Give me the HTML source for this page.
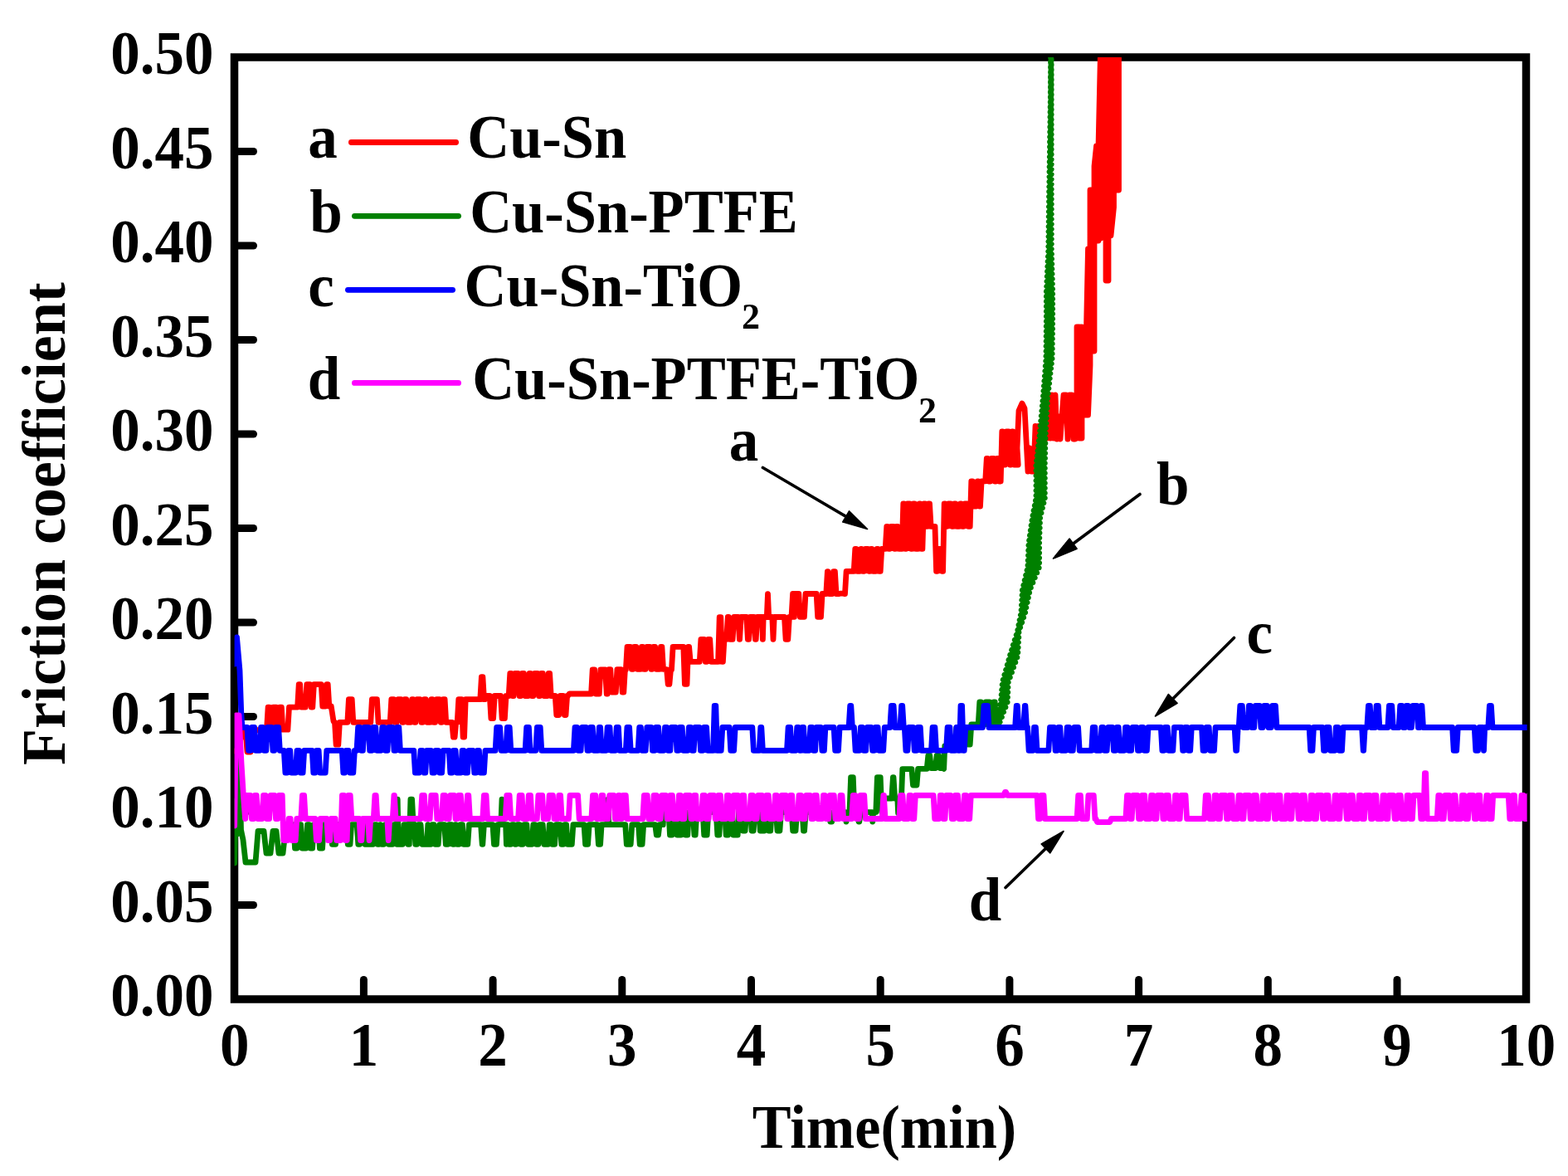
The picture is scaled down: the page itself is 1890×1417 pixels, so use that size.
<!DOCTYPE html>
<html><head><meta charset="utf-8"><title>Friction coefficient vs time</title>
<style>
html,body{margin:0;padding:0;background:#fff;}
body{width:1890px;height:1417px;overflow:hidden;}
svg{display:block;}
text{font-family:'Liberation Serif','Times New Roman',serif;font-weight:bold;fill:#000;}
</style></head><body>
<svg width="1890" height="1417" viewBox="0 0 1890 1417">
<rect width="1890" height="1417" fill="#fff"/>
<defs><clipPath id="pc"><rect x="282.6" y="69" width="1558" height="1135"/></clipPath></defs>
<g id="axes">
<rect x="282.5" y="69" width="1557" height="1135" fill="none" stroke="#000" stroke-width="9.5" stroke-linejoin="miter"/>
<line x1="283" y1="1090.50" x2="305.5" y2="1090.50" stroke="#000" stroke-width="9" stroke-linecap="round"/>
<line x1="283" y1="977.00" x2="305.5" y2="977.00" stroke="#000" stroke-width="9" stroke-linecap="round"/>
<line x1="283" y1="863.50" x2="305.5" y2="863.50" stroke="#000" stroke-width="9" stroke-linecap="round"/>
<line x1="283" y1="750.00" x2="305.5" y2="750.00" stroke="#000" stroke-width="9" stroke-linecap="round"/>
<line x1="283" y1="636.50" x2="305.5" y2="636.50" stroke="#000" stroke-width="9" stroke-linecap="round"/>
<line x1="283" y1="523.00" x2="305.5" y2="523.00" stroke="#000" stroke-width="9" stroke-linecap="round"/>
<line x1="283" y1="409.50" x2="305.5" y2="409.50" stroke="#000" stroke-width="9" stroke-linecap="round"/>
<line x1="283" y1="296.00" x2="305.5" y2="296.00" stroke="#000" stroke-width="9" stroke-linecap="round"/>
<line x1="283" y1="182.50" x2="305.5" y2="182.50" stroke="#000" stroke-width="9" stroke-linecap="round"/>
<line x1="438.40" y1="1203" x2="438.40" y2="1180.5" stroke="#000" stroke-width="9" stroke-linecap="round"/>
<line x1="594.10" y1="1203" x2="594.10" y2="1180.5" stroke="#000" stroke-width="9" stroke-linecap="round"/>
<line x1="749.80" y1="1203" x2="749.80" y2="1180.5" stroke="#000" stroke-width="9" stroke-linecap="round"/>
<line x1="905.50" y1="1203" x2="905.50" y2="1180.5" stroke="#000" stroke-width="9" stroke-linecap="round"/>
<line x1="1061.20" y1="1203" x2="1061.20" y2="1180.5" stroke="#000" stroke-width="9" stroke-linecap="round"/>
<line x1="1216.90" y1="1203" x2="1216.90" y2="1180.5" stroke="#000" stroke-width="9" stroke-linecap="round"/>
<line x1="1372.60" y1="1203" x2="1372.60" y2="1180.5" stroke="#000" stroke-width="9" stroke-linecap="round"/>
<line x1="1528.30" y1="1203" x2="1528.30" y2="1180.5" stroke="#000" stroke-width="9" stroke-linecap="round"/>
<line x1="1684.00" y1="1203" x2="1684.00" y2="1180.5" stroke="#000" stroke-width="9" stroke-linecap="round"/>
</g>
<g id="curves" clip-path="url(#pc)" fill="none" stroke-width="6.8" stroke-linejoin="round" stroke-linecap="round">
<path d="M282.7,905.0 L287.0,905.0 L292.0,880.0 L296.0,880.0 L298.0,906.0 L302.0,906.0 L305.0,880.0 L320.0,879.2 L320.8,879.2 L321.5,879.2 L323.1,852.1 L324.5,852.1 L326.1,879.2 L327.8,879.2 L329.4,852.1 L333.0,852.1 L334.6,879.2 L335.7,879.2 L337.3,852.1 L339.3,852.1 L340.9,879.2 L346.9,879.2 L348.5,852.1 L358.6,852.1 L360.2,824.6 L361.6,824.6 L363.2,852.1 L365.2,852.1 L366.8,852.1 L368.2,852.1 L369.8,824.6 L373.6,824.6 L375.2,852.1 L376.8,852.1 L378.4,824.6 L381.8,824.6 L383.4,824.6 L387.2,824.6 L388.8,851.0 L392.2,851.0 L393.8,824.6 L395.2,824.6 L396.8,851.0 L399.2,851.0 L402.0,869.0 L402.8,870.4 L403.5,870.4 L405.1,897.2 L407.8,897.2 L409.4,870.4 L418.8,870.4 L420.4,842.6 L424.2,842.6 L425.8,870.4 L446.8,870.4 L448.4,842.6 L454.4,842.6 L456.0,870.4 L470.2,870.4 L471.8,842.6 L474.6,842.6 L476.2,870.4 L478.2,870.4 L479.8,842.7 L483.4,842.7 L485.0,870.3 L486.1,870.3 L487.7,842.7 L489.7,842.7 L491.3,870.3 L495.0,870.3 L496.6,842.7 L498.0,842.7 L499.6,870.3 L500.9,870.3 L502.5,842.7 L506.3,842.7 L507.9,870.3 L509.5,870.3 L511.1,842.7 L513.2,842.7 L514.8,870.3 L518.3,870.3 L519.9,842.7 L521.3,842.7 L522.9,870.3 L524.6,870.3 L526.2,842.7 L529.7,842.7 L531.3,870.3 L532.5,870.3 L534.1,842.7 L536.1,842.7 L537.7,870.3 L542.2,870.3 L543.8,870.4 L544.8,870.4 L546.4,888.2 L548.1,888.2 L549.7,870.4 L551.2,870.4 L552.8,842.7 L553.2,842.7 L554.8,842.7 L556.5,842.7 L558.1,888.2 L559.6,888.2 L561.2,842.7 L562.2,842.7 L563.8,842.7 L576.2,842.7 L577.8,842.7 L578.8,842.7 L580.4,815.7 L581.9,815.7 L583.5,842.7 L584.5,842.7 L586.1,838.5 L590.3,838.5 L591.9,865.5 L594.6,865.5 L596.2,838.5 L603.5,838.5 L605.1,865.5 L608.4,865.5 L610.0,838.5 L613.2,838.5 L614.8,811.4 L616.2,811.4 L617.8,838.5 L619.1,838.5 L620.7,811.4 L624.5,811.4 L626.1,838.5 L627.7,838.5 L629.3,811.4 L631.4,811.4 L633.0,838.5 L636.5,838.5 L638.1,811.4 L639.5,811.4 L641.1,838.5 L642.8,838.5 L644.4,811.4 L647.9,811.4 L649.5,838.5 L650.7,838.5 L652.3,811.4 L654.3,811.4 L655.9,838.5 L659.6,838.5 L661.2,811.4 L662.6,811.4 L664.2,838.5 L666.2,838.5 L667.8,838.5 L669.2,838.5 L670.8,861.5 L673.6,861.5 L675.2,838.5 L678.8,838.5 L680.4,861.5 L682.0,861.5 L683.6,838.5 L684.6,838.5 L686.2,836.0 L712.6,836.0 L714.2,807.0 L716.6,807.0 L718.2,836.0 L722.3,836.0 L723.9,807.0 L729.6,807.0 L731.2,836.0 L732.2,836.0 L733.8,806.7 L735.8,806.7 L737.4,834.0 L742.3,834.0 L743.9,806.7 L748.6,806.7 L750.2,834.0 L751.8,834.0 L753.4,806.7 L754.4,806.7 L756.0,779.4 L759.8,779.4 L761.4,806.4 L763.0,806.4 L764.6,779.4 L766.8,779.4 L768.4,806.4 L771.8,806.4 L773.4,779.4 L774.8,779.4 L776.4,806.4 L778.1,806.4 L779.7,779.4 L783.3,779.4 L784.9,806.4 L786.0,806.4 L787.6,779.4 L789.6,779.4 L791.2,806.4 L794.9,806.4 L796.5,779.4 L797.9,779.4 L799.5,806.4 L801.0,806.4 L802.6,806.7 L803.6,806.7 L805.2,824.4 L806.9,824.4 L808.5,806.7 L809.5,806.7 L811.1,779.4 L821.2,779.4 L822.8,779.4 L823.8,779.4 L825.4,824.4 L828.0,824.4 L829.6,779.4 L830.6,779.4 L832.2,797.4 L843.3,797.4 L844.9,770.4 L848.7,770.4 L850.3,797.3 L851.9,797.3 L853.5,770.4 L855.7,770.4 L857.3,797.3 L863.0,797.3 L864.6,797.4 L865.6,797.4 L867.2,743.7 L868.8,743.7 L870.4,797.4 L871.4,797.4 L873.0,770.4 L875.7,770.4 L877.3,743.5 L878.3,743.5 L879.9,770.3 L883.1,770.3 L884.7,743.5 L889.8,743.5 L891.4,770.3 L891.6,770.3 L893.2,743.5 L899.8,743.5 L901.4,770.3 L902.6,770.3 L904.2,743.5 L908.8,743.5 L910.4,770.3 L911.2,770.3 L912.8,743.5 L918.5,743.5 L919.4,770.3 L920.2,743.5 L924.3,743.5 L925.5,715.7 L926.7,743.5 L930.8,743.5 L932.0,770.3 L933.2,743.5 L945.5,743.5 L947.1,770.3 L949.8,770.3 L951.4,743.5 L954.0,743.5 L955.6,715.5 L956.6,715.5 L957.4,743.3 L958.2,715.5 L962.8,715.5 L964.4,743.3 L969.4,743.3 L971.0,715.5 L984.1,715.5 L985.7,743.3 L989.5,743.3 L991.1,715.5 L995.8,715.5 L997.4,688.7 L997.9,688.7 L999.5,715.5 L1003.1,715.5 L1004.7,688.7 L1006.4,688.7 L1008.0,715.5 L1011.6,715.5 L1013.2,715.2 L1015.9,715.2 L1017.5,715.5 L1018.5,715.5 L1020.1,688.4 L1029.2,688.4 L1030.8,661.3 L1032.0,661.3 L1033.5,688.3 L1036.2,688.3 L1037.8,661.3 L1038.5,661.3 L1040.1,688.3 L1041.5,688.3 L1043.1,661.3 L1046.0,661.3 L1047.5,688.3 L1048.5,688.3 L1050.0,661.3 L1050.9,661.3 L1052.5,688.3 L1055.4,688.3 L1057.0,661.3 L1058.1,661.3 L1059.7,688.3 L1061.2,688.3 L1062.8,661.3 L1067.2,661.3 L1068.8,634.3 L1069.7,634.3 L1071.3,661.4 L1072.5,661.4 L1074.0,634.3 L1076.8,634.3 L1078.3,661.4 L1079.0,661.4 L1080.6,634.3 L1082.0,634.3 L1083.6,661.4 L1087.2,661.4 L1088.8,606.8 L1089.7,606.8 L1091.3,661.4 L1092.1,661.4 L1093.7,606.8 L1096.6,606.8 L1098.2,661.4 L1099.3,661.4 L1100.9,606.8 L1102.4,606.8 L1104.0,661.4 L1106.6,661.4 L1108.2,606.8 L1109.1,606.8 L1110.7,661.4 L1111.9,661.4 L1113.5,606.8 L1115.2,606.8 L1116.8,634.3 L1117.5,634.3 L1119.1,606.8 L1120.5,606.8 L1122.1,634.3 L1127.0,634.3 L1128.6,688.4 L1129.6,688.4 L1131.2,661.4 L1134.0,661.4 L1135.6,688.4 L1136.6,688.4 L1138.2,606.8 L1139.1,606.8 L1140.7,634.3 L1141.5,634.3 L1143.1,606.8 L1146.0,606.8 L1147.6,634.3 L1148.7,634.3 L1150.3,606.8 L1151.8,606.8 L1153.4,634.3 L1156.0,634.3 L1157.6,606.8 L1158.5,606.8 L1160.1,634.3 L1161.3,634.3 L1162.9,606.8 L1165.6,606.8 L1167.2,634.3 L1169.2,634.3 L1170.8,579.8 L1172.2,579.8 L1173.8,610.0 L1176.6,610.0 L1178.2,579.8 L1179.1,579.8 L1180.7,610.0 L1181.5,610.0 L1183.1,579.8 L1187.7,579.8 L1189.3,552.4 L1190.4,552.4 L1192.0,580.0 L1193.5,580.0 L1195.1,552.4 L1197.7,552.4 L1199.3,580.0 L1200.2,580.0 L1201.8,552.4 L1203.0,552.4 L1204.5,580.0 L1206.2,580.0 L1207.8,520.0 L1208.5,520.0 L1210.1,560.0 L1211.5,560.0 L1213.1,520.0 L1215.9,520.0 L1217.5,560.0 L1218.4,560.0 L1220.0,520.0 L1220.8,520.0 L1222.4,560.0 L1227.2,560.0 L1226.0,540.0 L1228.0,495.0 L1232.0,486.0 L1235.0,492.0 L1237.0,530.0 L1239.0,568.0 L1241.0,540.0 L1243.0,568.0 L1246.0,568.0 L1248.0,513.5 L1250.0,540.0 L1252.0,513.5 L1254.0,545.0 L1256.0,513.5 L1258.0,540.0 L1260.0,500.0 L1262.0,528.0 L1264.0,476.0 L1266.0,528.0 L1268.0,476.0 L1270.0,528.0 L1272.0,476.0 L1274.0,529.0 L1276.0,502.0 L1278.0,529.0 L1280.0,502.0 L1282.0,476.0 L1285.0,476.0 L1287.0,529.0 L1289.0,476.0 L1292.0,476.0 L1294.0,529.0 L1296.0,529.0 L1298.0,528.0 L1298.0,394.0 L1301.0,394.0 L1301.0,528.0 L1304.0,528.0 L1304.0,394.0 L1306.5,420.0 L1306.5,500.0 L1309.0,500.0 L1309.0,420.0 L1311.5,300.0 L1311.5,500.0 L1314.0,440.0 L1314.0,229.0 L1316.5,229.0 L1316.5,423.0 L1319.0,423.0 L1319.0,200.0 L1321.5,176.0 L1321.5,290.0 L1324.0,290.0 L1324.0,176.0 L1327.0,40.0 L1327.0,287.0 L1330.0,284.0 L1330.0,40.0 L1333.0,40.0 L1333.0,338.0 L1336.0,338.0 L1336.0,40.0 L1339.0,40.0 L1339.0,284.0 L1342.5,250.0 L1342.5,100.0 L1345.5,40.0 L1345.5,229.0 L1348.5,229.0 L1348.5,40.0 L1350.0,10.0" stroke="#FF0000"/>
<path d="M282.7,1040.0 L284.2,965.0 L286.0,1005.0 L288.5,910.0 L290.5,1000.0 L293.0,1012.0 L296.0,1039.0 L308.0,1039.0 L311.0,1001.5 L318.0,1001.5 L321.0,1028.0 L326.0,1028.0 L329.0,1001.5 L333.0,1001.5 L336.0,1028.0 L341.0,1028.0 L344.0,1001.5 L350.0,1001.5 L353.0,994.0 L353.8,993.7 L353.9,993.7 L355.5,1022.0 L357.9,1022.0 L359.6,993.7 L362.6,993.7 L364.2,1022.0 L368.9,1022.0 L370.5,993.7 L372.6,993.7 L374.2,1022.0 L376.6,1022.0 L378.2,993.7 L383.8,993.7 L385.4,1022.0 L388.6,1022.0 L390.2,993.7 L398.8,993.7 L400.4,1017.3 L403.2,1017.3 L400.8,1017.3 L404.5,1017.3 L406.1,993.7 L417.7,993.7 L419.3,1017.3 L422.0,1017.3 L423.6,993.7 L425.2,993.7 L426.8,993.7 L430.2,993.7 L431.8,1017.3 L433.6,1017.3 L435.2,993.7 L438.1,993.7 L439.8,1017.3 L446.2,1017.3 L447.8,1017.3 L449.9,1017.3 L451.6,993.7 L453.6,993.7 L455.2,1017.3 L456.9,1017.3 L458.5,993.7 L458.5,993.7 L460.1,1017.3 L462.6,1017.3 L464.2,993.7 L465.9,993.7 L467.2,993.7 L468.5,1017.3 L473.2,1017.3 L474.8,993.7 L477.0,993.7 L478.5,1017.3 L479.2,963.2 L480.2,1017.3 L481.2,1017.3 L482.8,1017.3 L485.3,1017.3 L486.9,993.7 L490.2,993.7 L491.8,1017.3 L493.3,1017.3 L494.9,963.2 L496.6,963.2 L498.2,993.7 L499.2,993.7 L500.8,1017.3 L502.6,1017.3 L504.2,993.7 L507.1,993.7 L508.8,1017.3 L514.5,1017.3 L515.8,993.7 L517.2,1017.3 L519.4,1017.3 L520.9,993.7 L523.0,993.7 L524.5,1017.3 L528.2,1017.3 L529.8,993.7 L535.7,993.7 L537.3,1017.3 L539.8,1017.3 L541.3,993.7 L544.4,993.7 L546.0,1017.3 L547.2,1017.3 L548.8,993.7 L549.5,993.7 L551.1,1017.3 L553.2,1017.3 L554.8,993.7 L557.4,993.7 L559.0,1017.3 L563.8,1017.3 L565.4,993.7 L567.5,993.7 L569.1,993.7 L577.0,993.7 L578.6,993.7 L579.6,993.7 L581.2,1017.3 L581.8,1017.3 L583.4,993.7 L584.4,993.7 L586.0,993.7 L593.9,993.7 L595.5,1017.3 L598.4,1017.3 L600.0,993.7 L601.2,993.7 L602.8,993.7 L603.8,993.7 L605.0,963.2 L606.2,993.7 L609.6,993.7 L610.4,1017.3 L611.1,993.7 L611.9,993.7 L613.5,1017.3 L615.7,1017.3 L617.2,993.7 L619.3,993.7 L620.9,1017.3 L622.0,1017.3 L623.6,993.7 L626.2,993.7 L627.8,1017.3 L630.2,1017.3 L631.8,993.7 L634.9,993.7 L636.5,1017.3 L641.2,1017.3 L642.8,993.7 L644.9,993.7 L646.5,1017.3 L648.9,1017.3 L650.5,993.7 L654.2,993.7 L655.8,1017.3 L660.7,1017.3 L662.2,993.7 L664.1,993.7 L665.7,1017.3 L668.6,1017.3 L670.2,993.7 L675.2,993.7 L676.8,1017.3 L679.0,1017.3 L680.6,993.7 L682.6,993.7 L684.2,1017.3 L689.3,1017.3 L690.9,993.7 L693.4,993.7 L695.0,993.7 L704.0,993.7 L705.6,1017.3 L708.6,1017.3 L710.2,993.7 L713.0,993.7 L714.6,993.7 L719.8,993.7 L721.4,1017.3 L723.6,1017.3 L725.1,993.7 L729.9,993.7 L731.5,993.7 L732.2,993.7 L733.0,963.2 L733.8,993.7 L734.6,993.7 L736.2,993.7 L753.7,993.7 L755.3,1017.3 L760.2,1017.3 L761.8,993.7 L762.7,993.7 L764.3,993.7 L769.6,993.7 L771.2,1017.3 L774.1,1017.3 L775.7,993.7 L782.2,993.7 L783.8,993.7 L789.7,993.7 L791.3,1006.0 L793.5,1006.0 L795.0,993.7 L799.2,993.7 L800.0,979.0 L800.8,978.6 L806.0,978.6 L807.5,1006.0 L810.0,1006.0 L811.6,978.6 L814.6,978.6 L816.2,1006.0 L820.9,1006.0 L822.5,978.6 L824.7,978.6 L826.3,1006.0 L828.8,1006.0 L830.4,978.6 L835.3,978.6 L836.9,1006.0 L838.2,1006.0 L839.8,978.6 L842.6,978.6 L844.2,978.6 L847.1,978.6 L848.7,1006.0 L852.2,1006.0 L853.8,978.6 L859.5,978.6 L861.1,978.6 L863.2,978.6 L864.8,1006.0 L866.9,1006.0 L868.4,978.6 L873.6,978.6 L875.2,1006.0 L877.6,1006.0 L879.2,978.6 L882.3,978.6 L883.9,1006.0 L889.2,1006.0 L890.5,978.6 L891.8,978.6 L894.0,978.6 L895.5,1001.0 L898.1,1001.0 L899.7,978.6 L904.5,978.6 L906.1,1001.0 L908.2,1001.0 L909.8,978.6 L910.2,978.6 L911.8,978.6 L914.7,978.6 L916.3,1001.0 L921.3,1001.0 L922.9,978.6 L925.1,978.6 L926.6,1001.0 L928.7,1001.0 L930.2,978.6 L935.4,978.6 L937.0,1001.0 L939.9,1001.0 L941.5,978.6 L949.5,978.6 L951.1,978.6 L954.1,978.6 L955.7,1001.0 L959.0,1001.0 L960.6,978.6 L963.2,978.6 L964.8,978.6 L967.0,978.6 L968.5,1001.0 L969.6,1001.0 L971.2,978.6 L980.2,978.6 L981.8,978.6 L988.6,978.6 L990.2,978.6 L999.2,978.6 L1000.8,990.0 L1002.7,990.0 L1004.2,978.6 L1008.7,978.6 L1010.3,978.6 L1017.2,978.6 L1018.8,978.6 L1019.2,978.6 L1020.0,990.0 L1020.8,978.6 L1024.0,978.6 L1025.6,936.6 L1028.3,936.6 L1029.9,978.6 L1033.5,978.6 L1035.1,990.0 L1035.8,990.0 L1037.4,978.6 L1038.4,978.6 L1040.0,978.6 L1048.9,978.6 L1050.5,978.6 L1051.0,978.6 L1051.8,990.0 L1052.6,978.6 L1055.8,978.6 L1057.4,936.6 L1061.2,936.6 L1062.8,978.6 L1063.8,978.6 L1065.4,962.0 L1071.2,962.0 L1072.8,962.0 L1074.8,962.0 L1076.4,936.6 L1077.0,936.6 L1078.6,962.0 L1081.8,962.0 L1082.6,979.6 L1083.4,962.0 L1086.5,962.0 L1087.8,926.6 L1089.2,926.6 L1092.3,926.6 L1093.9,926.6 L1098.9,926.6 L1100.5,946.0 L1105.0,946.0 L1106.6,926.3 L1117.2,926.3 L1118.8,910.5 L1120.8,910.5 L1122.4,925.6 L1127.5,925.6 L1129.1,910.5 L1131.6,910.5 L1133.2,925.6 L1136.6,925.6 L1137.7,926.3 L1138.8,899.0 L1151.2,899.0 L1152.8,877.0 L1157.5,877.0 L1159.1,897.0 L1161.2,897.0 L1162.8,877.0 L1165.4,877.0 L1167.0,897.0 L1169.2,897.0 L1170.8,873.0 L1179.2,873.0 L1180.8,846.0 L1182.4,846.0 L1184.0,873.0 L1186.6,873.0 L1188.2,846.0 L1192.8,846.0 L1194.4,873.0 L1196.3,873.0 L1197.9,846.0 L1199.2,846.0 L1200.0,873.0 L1205.1,870.0 L1201.4,867.0 L1207.4,864.0 L1202.8,861.0 L1209.6,858.0 L1204.3,855.0 L1211.9,852.0 L1205.7,849.0 L1214.1,846.0 L1206.7,843.0 L1214.4,840.0 L1207.2,837.0 L1214.7,834.0 L1207.7,831.0 L1214.9,828.0 L1208.2,825.0 L1215.2,822.0 L1209.2,819.0 L1217.3,816.0 L1210.9,813.0 L1219.5,810.0 L1212.6,807.0 L1221.6,804.0 L1214.3,801.0 L1223.8,798.0 L1216.0,795.0 L1225.9,792.0 L1217.7,789.0 L1226.8,786.0 L1219.6,783.0 L1227.1,780.0 L1221.4,777.0 L1227.4,774.0 L1223.3,771.0 L1227.7,768.0 L1225.2,765.0 L1228.0,762.0 L1226.8,759.0 L1229.7,756.0 L1228.0,753.0 L1231.7,750.0 L1229.2,747.0 L1233.6,744.0 L1230.4,741.0 L1235.6,738.0 L1231.2,735.0 L1236.8,732.0 L1231.5,729.0 L1238.1,726.0 L1231.8,723.0 L1239.3,720.0 L1232.1,717.0 L1240.6,714.0 L1232.4,711.0 L1242.4,708.0 L1233.8,705.0 L1244.9,702.0 L1235.2,699.0 L1247.3,696.0 L1236.6,693.0 L1249.8,690.0 L1238.0,687.0 L1252.2,684.0 L1239.0,681.0 L1252.6,678.0 L1239.2,675.0 L1252.6,672.0 L1239.5,669.0 L1252.6,666.0 L1239.7,663.0 L1252.6,660.0 L1239.9,657.0 L1252.6,654.0 L1240.6,651.0 L1252.8,648.0 L1241.4,645.0 L1253.0,642.0 L1242.3,639.0 L1253.2,636.0 L1243.1,633.0 L1253.4,630.0 L1244.0,627.0 L1253.6,624.0 L1245.0,621.0 L1255.0,618.0 L1246.1,615.0 L1256.4,612.0 L1247.3,609.0 L1257.9,606.0 L1248.4,603.0 L1259.3,600.0 L1249.0,597.0 L1259.3,594.0 L1249.0,591.0 L1259.3,588.0 L1249.0,585.0 L1259.3,582.0 L1249.0,579.0 L1259.3,576.0 L1249.0,573.0 L1259.3,570.0 L1249.0,567.0 L1259.3,564.0 L1249.0,561.0 L1259.3,558.0 L1249.6,555.0 L1259.5,552.0 L1250.3,549.0 L1259.6,546.0 L1251.0,543.0 L1259.7,540.0 L1251.7,537.0 L1259.8,534.0 L1252.4,531.0 L1260.0,528.0 L1253.1,525.0 L1260.2,522.0 L1253.7,519.0 L1260.6,516.0 L1254.2,513.0 L1260.9,510.0 L1254.8,507.0 L1261.2,504.0 L1255.3,501.0 L1261.5,498.0 L1255.9,495.0 L1261.9,492.0 L1256.5,489.0 L1262.2,486.0 L1257.0,483.0 L1262.5,480.0 L1257.6,477.0 L1263.2,474.0 L1258.0,471.0 L1263.9,468.0 L1258.5,465.0 L1264.6,462.0 L1258.9,459.0 L1265.2,456.0 L1259.4,453.0 L1265.9,450.0 L1259.9,447.0 L1266.6,444.0 L1260.3,441.0 L1267.3,438.0 L1260.8,435.0 L1268.0,432.0 L1261.0,429.0 L1268.1,426.0 L1261.1,423.0 L1268.2,420.0 L1261.1,417.0 L1268.2,414.0 L1261.2,411.0 L1268.3,408.0 L1261.2,405.0 L1268.4,402.0 L1261.3,399.0 L1268.5,396.0 L1261.3,393.0 L1268.5,390.0 L1261.4,387.0 L1268.6,384.0 L1261.4,381.0 L1268.6,378.0 L1261.4,375.0 L1268.6,372.0 L1261.4,369.0 L1268.6,366.0 L1261.4,363.0 L1268.6,360.0 L1261.4,357.0 L1268.6,354.0 L1261.4,351.0 L1268.5,348.0 L1261.7,345.0 L1268.3,342.0 L1262.0,339.0 L1268.2,336.0 L1262.3,333.0 L1268.0,330.0 L1262.6,327.0 L1267.8,324.0 L1262.9,321.0 L1267.7,318.0 L1263.2,315.0 L1267.5,312.0 L1263.5,309.0 L1267.4,306.0 L1263.8,303.0 L1267.2,300.0 L1263.9,297.0 L1267.2,294.0 L1264.0,291.0 L1267.2,288.0 L1264.1,285.0 L1267.2,282.0 L1264.1,279.0 L1267.2,276.0 L1264.2,273.0 L1267.2,270.0 L1264.3,267.0 L1267.2,264.0 L1264.3,261.0 L1267.2,258.0 L1264.4,255.0 L1267.2,252.0 L1264.5,249.0 L1267.2,246.0 L1264.6,243.0 L1267.2,240.0 L1264.6,237.0 L1267.2,234.0 L1264.7,231.0 L1267.2,228.0 L1264.8,225.0 L1267.2,222.0 L1264.9,219.0 L1267.2,216.0 L1265.0,213.0 L1267.2,210.0 L1265.0,207.0 L1267.2,204.0 L1265.1,201.0 L1267.2,198.0 L1265.2,195.0 L1267.2,192.0 L1265.3,189.0 L1267.2,186.0 L1265.4,183.0 L1267.2,180.0 L1265.5,177.0 L1267.2,174.0 L1265.5,171.0 L1267.2,168.0 L1265.6,165.0 L1267.2,162.0 L1265.7,159.0 L1267.2,156.0 L1265.8,153.0 L1267.2,150.0 L1265.9,147.0 L1267.2,144.0 L1265.9,141.0 L1267.2,138.0 L1266.0,135.0 L1267.2,132.0 L1266.1,129.0 L1267.2,126.0 L1266.2,123.0 L1267.2,120.0 L1266.3,117.0 L1267.2,114.0 L1266.3,111.0 L1267.2,108.0 L1266.4,105.0 L1267.2,102.0 L1266.4,99.0 L1267.2,96.0 L1266.4,93.0 L1267.2,90.0 L1266.5,87.0 L1267.2,84.0 L1266.5,81.0 L1267.2,78.0 L1266.5,75.0 L1267.2,72.0 L1266.5,69.0 L1267.2,66.0 L1266.5,63.0 L1267.0,40.0" stroke="#008000"/>
<path d="M282.7,800.0 L285.5,768.0 L289.0,808.0 L290.8,860.0 L292.0,876.5 L292.8,876.5 L297.9,876.5 L299.6,904.3 L302.0,904.3 L303.6,876.5 L306.6,876.5 L308.2,904.3 L312.9,904.3 L314.6,876.5 L316.7,876.5 L318.3,904.3 L320.8,904.3 L322.4,876.5 L327.3,876.5 L328.9,904.3 L330.7,904.3 L332.3,876.5 L335.7,876.5 L337.3,904.3 L342.3,904.3 L343.9,931.0 L346.1,931.0 L347.7,904.3 L349.7,904.3 L351.3,931.0 L356.4,931.0 L358.0,904.3 L360.5,904.3 L362.1,931.0 L365.1,931.0 L366.7,904.3 L370.2,904.3 L371.8,904.3 L376.2,904.3 L377.8,931.0 L379.9,931.0 L381.6,904.3 L384.1,904.3 L385.7,931.0 L392.2,931.0 L393.8,904.3 L412.2,904.3 L413.8,931.0 L415.6,931.0 L417.2,904.3 L420.1,904.3 L421.8,931.0 L425.8,931.0 L427.4,904.3 L430.0,904.3 L431.6,876.5 L433.8,876.5 L435.4,904.3 L437.4,904.3 L439.0,876.5 L444.1,876.5 L445.7,904.3 L448.2,904.3 L449.8,876.5 L452.8,876.5 L454.4,904.3 L459.1,904.3 L460.7,876.5 L462.9,876.5 L464.5,904.3 L467.0,904.3 L468.6,876.5 L473.4,876.5 L475.0,904.3 L476.9,904.3 L478.5,876.5 L480.8,876.5 L482.4,904.3 L498.8,904.3 L500.4,931.0 L505.4,931.0 L507.0,904.3 L509.2,904.3 L510.8,931.0 L512.8,931.0 L514.4,904.3 L519.5,904.3 L521.1,931.0 L523.6,931.0 L525.1,904.3 L528.2,904.3 L529.8,931.0 L532.6,931.0 L534.2,904.3 L541.2,904.3 L542.8,931.0 L545.0,931.0 L546.5,904.3 L549.1,904.3 L550.7,931.0 L555.5,931.0 L557.1,904.3 L559.0,904.3 L560.6,931.0 L563.5,931.0 L565.1,904.3 L570.1,904.3 L571.7,931.0 L573.8,931.0 L575.4,904.3 L577.4,904.3 L579.0,931.0 L583.4,931.0 L585.0,904.3 L597.1,904.3 L598.7,876.5 L602.6,876.5 L604.2,904.3 L609.8,904.3 L611.4,876.5 L614.2,876.5 L615.8,904.3 L633.1,904.3 L634.7,876.5 L637.4,876.5 L639.0,904.3 L645.8,904.3 L647.4,876.5 L651.2,876.5 L652.8,904.3 L653.8,904.3 L655.4,904.3 L691.4,904.3 L693.0,876.5 L695.5,876.5 L697.0,904.3 L700.1,904.3 L701.7,876.5 L706.4,876.5 L708.0,904.3 L710.1,904.3 L711.7,876.5 L714.3,876.5 L715.9,904.3 L720.7,904.3 L722.3,876.5 L723.6,876.5 L725.2,904.3 L730.5,904.3 L732.1,876.5 L735.0,876.5 L736.6,904.3 L741.6,904.3 L743.2,876.5 L745.4,876.5 L746.9,904.3 L748.5,904.3 L750.1,904.3 L754.3,904.3 L755.9,876.5 L758.6,876.5 L760.2,904.3 L769.1,904.3 L770.7,876.5 L772.4,876.5 L774.0,904.3 L778.2,904.3 L779.8,876.5 L785.0,876.5 L786.5,904.3 L789.0,904.3 L790.6,876.5 L793.6,876.5 L795.2,904.3 L799.9,904.3 L801.5,876.5 L803.7,876.5 L805.3,904.3 L807.8,904.3 L809.4,876.5 L814.3,876.5 L815.9,904.3 L817.7,904.3 L819.3,876.5 L822.2,876.5 L823.8,904.3 L828.8,904.3 L830.4,876.5 L832.6,876.5 L834.2,904.3 L836.2,904.3 L837.8,876.5 L842.9,876.5 L844.5,904.3 L847.0,904.3 L848.6,876.5 L851.6,876.5 L853.2,904.3 L856.2,904.3 L857.8,904.3 L859.6,904.3 L861.2,850.4 L862.8,850.4 L864.4,904.3 L865.4,904.3 L867.0,904.3 L869.2,904.3 L870.8,876.5 L879.2,876.5 L880.8,904.3 L884.6,904.3 L886.2,876.5 L906.8,876.5 L908.4,904.3 L915.2,904.3 L916.8,876.5 L917.8,876.5 L919.4,904.3 L948.5,904.3 L950.1,876.5 L952.6,876.5 L954.2,904.3 L959.1,904.3 L960.7,876.5 L962.5,876.5 L964.1,904.3 L965.4,904.3 L967.0,876.5 L968.6,876.5 L970.2,904.3 L975.2,904.3 L976.8,876.5 L979.0,876.5 L980.5,904.3 L982.6,904.3 L984.1,876.5 L989.3,876.5 L990.9,904.3 L993.4,904.3 L994.9,876.5 L996.2,876.5 L997.8,876.5 L1005.1,876.5 L1006.7,904.3 L1010.5,904.3 L1012.1,876.5 L1023.1,876.5 L1024.7,850.4 L1025.8,850.4 L1027.4,876.5 L1029.5,876.5 L1031.1,904.3 L1035.8,904.3 L1037.4,876.5 L1039.5,876.5 L1041.1,904.3 L1043.7,904.3 L1045.3,876.5 L1050.1,876.5 L1051.7,904.3 L1053.6,904.3 L1055.2,876.5 L1058.1,876.5 L1059.7,904.3 L1064.7,904.3 L1066.3,876.5 L1070.2,876.5 L1071.8,876.5 L1072.8,876.5 L1074.4,850.4 L1077.1,850.4 L1078.7,876.5 L1085.0,876.5 L1086.6,850.4 L1087.7,850.4 L1089.3,876.5 L1090.3,876.5 L1091.9,904.3 L1093.9,904.3 L1095.5,876.5 L1100.6,876.5 L1102.2,904.3 L1104.7,904.3 L1106.3,876.5 L1109.3,876.5 L1110.9,904.3 L1115.7,904.3 L1117.3,904.3 L1122.5,904.3 L1124.1,876.5 L1126.9,876.5 L1128.5,904.3 L1140.5,904.3 L1142.1,876.5 L1144.9,876.5 L1146.5,904.3 L1147.5,904.3 L1149.1,904.3 L1151.2,904.3 L1152.8,876.5 L1153.8,876.5 L1155.4,904.3 L1156.4,904.3 L1158.0,850.4 L1159.6,850.4 L1161.2,904.3 L1162.2,904.3 L1163.8,876.5 L1184.4,876.5 L1186.0,850.4 L1190.4,850.4 L1192.0,876.5 L1223.6,876.5 L1225.2,850.4 L1226.3,850.4 L1227.9,876.5 L1233.7,876.5 L1235.3,850.4 L1235.9,850.4 L1237.5,876.5 L1238.5,876.5 L1240.1,904.3 L1245.0,904.3 L1246.5,876.5 L1248.4,876.5 L1250.0,904.3 L1254.9,904.3 L1256.5,904.3 L1263.9,904.3 L1265.5,876.5 L1270.5,876.5 L1272.1,904.3 L1274.2,904.3 L1275.8,876.5 L1277.8,876.5 L1279.4,904.3 L1284.6,904.3 L1286.2,876.5 L1288.6,876.5 L1290.2,904.3 L1293.3,904.3 L1294.9,876.5 L1299.6,876.5 L1301.2,904.3 L1304.2,904.3 L1305.8,904.3 L1315.7,904.3 L1317.3,876.5 L1319.8,876.5 L1321.4,904.3 L1326.3,904.3 L1327.9,876.5 L1329.7,876.5 L1331.3,904.3 L1334.2,904.3 L1335.8,876.5 L1340.8,876.5 L1342.4,904.3 L1344.6,904.3 L1346.2,876.5 L1348.2,876.5 L1349.8,904.3 L1354.9,904.3 L1356.5,876.5 L1359.0,876.5 L1360.6,904.3 L1363.6,904.3 L1365.2,876.5 L1369.9,876.5 L1371.5,904.3 L1373.7,904.3 L1375.3,876.5 L1377.8,876.5 L1379.4,904.3 L1382.4,904.3 L1384.0,876.5 L1399.3,876.5 L1400.9,904.3 L1402.8,904.3 L1404.3,876.5 L1407.2,876.5 L1408.8,904.3 L1413.8,904.3 L1415.4,876.5 L1417.8,876.5 L1419.4,876.5 L1424.1,876.5 L1425.7,904.3 L1426.9,904.3 L1428.5,876.5 L1431.1,876.5 L1432.7,904.3 L1434.7,904.3 L1436.3,876.5 L1443.8,876.5 L1445.4,876.5 L1448.5,876.5 L1450.1,904.3 L1452.5,904.3 L1454.1,876.5 L1457.2,876.5 L1458.8,904.3 L1463.5,904.3 L1465.1,876.5 L1469.2,876.5 L1470.8,876.5 L1488.1,876.5 L1489.7,904.3 L1490.6,904.3 L1492.2,876.5 L1493.2,876.5 L1494.8,850.4 L1497.3,850.4 L1498.9,876.5 L1503.8,876.5 L1505.4,850.4 L1507.2,850.4 L1508.8,876.5 L1511.7,876.5 L1513.3,850.4 L1518.3,850.4 L1519.9,876.5 L1522.1,876.5 L1523.7,850.4 L1527.3,850.4 L1528.9,876.5 L1532.1,876.5 L1533.7,850.4 L1537.4,850.4 L1539.0,876.5 L1578.1,876.5 L1579.7,904.3 L1581.9,904.3 L1583.5,876.5 L1594.0,876.5 L1595.6,904.3 L1597.3,904.3 L1598.9,876.5 L1602.0,876.5 L1603.6,904.3 L1608.8,904.3 L1610.3,876.5 L1612.8,876.5 L1614.4,904.3 L1617.5,904.3 L1619.0,876.5 L1625.2,876.5 L1626.8,876.5 L1641.6,876.5 L1643.2,904.3 L1643.6,904.3 L1645.2,876.5 L1647.8,876.5 L1649.4,850.4 L1651.3,850.4 L1652.9,876.5 L1657.5,876.5 L1659.1,850.4 L1661.3,850.4 L1662.9,876.5 L1672.8,876.5 L1674.4,850.4 L1677.7,850.4 L1679.3,876.5 L1686.1,876.5 L1687.7,850.4 L1689.9,850.4 L1691.5,876.5 L1693.5,876.5 L1695.1,850.4 L1697.2,850.4 L1698.8,876.5 L1701.4,876.5 L1703.0,850.4 L1707.8,850.4 L1709.4,876.5 L1711.3,876.5 L1712.9,850.4 L1713.9,850.4 L1715.5,876.5 L1750.6,876.5 L1752.2,904.3 L1755.7,904.3 L1757.3,876.5 L1777.2,876.5 L1778.8,904.3 L1781.5,904.3 L1783.1,876.5 L1787.3,876.5 L1788.5,904.3 L1789.7,876.5 L1793.8,876.5 L1795.4,850.4 L1797.4,850.4 L1799.0,876.5 L1844.2,876.5" stroke="#0000FF"/>
<path d="M282.7,995.0 L284.5,862.0 L288.0,862.0 L291.0,920.0 L293.5,960.0 L295.5,986.5 L295.8,986.5 L296.8,958.4 L301.8,958.4 L303.4,986.5 L305.6,986.5 L307.2,958.4 L309.2,958.4 L310.8,986.5 L315.9,986.5 L317.5,958.4 L320.0,958.4 L321.6,986.5 L324.6,986.5 L326.2,958.4 L330.9,958.4 L332.5,986.5 L334.7,986.5 L336.3,958.4 L340.2,958.4 L341.8,1012.5 L346.6,1012.5 L348.2,986.5 L350.1,986.5 L351.7,1012.5 L356.2,1012.5 L357.8,986.5 L362.8,986.5 L364.4,958.4 L366.6,958.4 L368.2,986.5 L379.8,986.5 L381.4,1012.5 L384.6,1012.5 L386.2,986.5 L393.8,986.5 L395.4,1012.5 L397.6,1012.5 L399.2,986.5 L404.2,986.5 L405.8,1012.5 L410.8,1012.5 L412.4,958.4 L414.6,958.4 L416.2,1012.5 L418.2,1012.5 L419.8,958.4 L422.2,958.4 L423.8,986.5 L433.0,986.5 L434.6,1012.5 L435.8,1012.5 L437.4,986.5 L443.6,986.5 L445.1,1012.5 L446.7,986.5 L450.3,986.5 L451.9,958.4 L453.2,958.4 L454.8,986.5 L466.8,986.5 L468.2,1012.5 L469.7,986.5 L473.3,986.5 L474.9,958.4 L475.4,958.4 L477.0,986.5 L478.0,986.5 L479.6,986.5 L507.1,986.5 L508.7,958.4 L511.4,958.4 L513.0,986.5 L518.2,986.5 L519.8,958.4 L525.2,958.4 L526.8,986.5 L532.5,986.5 L534.1,958.4 L536.5,958.4 L538.1,986.5 L541.2,986.5 L542.8,958.4 L547.5,958.4 L549.1,986.5 L551.2,986.5 L552.8,958.4 L555.4,958.4 L557.0,986.5 L561.8,986.5 L563.4,958.4 L564.8,958.4 L566.4,986.5 L581.8,986.5 L583.4,958.4 L586.0,958.4 L587.6,986.5 L609.2,986.5 L610.8,958.4 L614.1,958.4 L615.7,986.5 L624.6,986.5 L626.2,958.4 L629.1,958.4 L630.7,986.5 L635.7,986.5 L637.3,958.4 L639.5,958.4 L641.0,986.5 L644.7,986.5 L646.3,986.5 L647.3,986.5 L648.9,958.4 L653.7,958.4 L655.3,986.5 L660.5,986.5 L662.1,958.4 L666.4,958.4 L668.0,986.5 L672.2,986.5 L673.8,958.4 L675.6,958.4 L677.2,986.5 L685.4,986.5 L687.0,958.4 L696.6,958.4 L698.2,986.5 L712.9,986.5 L714.5,958.4 L717.8,958.4 L719.4,986.5 L723.5,986.5 L725.1,958.4 L726.8,958.4 L728.4,986.5 L733.1,986.5 L734.7,958.4 L739.9,958.4 L741.4,986.5 L743.9,986.5 L745.5,958.4 L746.8,958.4 L748.4,986.5 L749.4,986.5 L751.0,958.4 L754.3,958.4 L755.9,986.5 L774.8,986.5 L776.4,958.4 L780.2,958.4 L781.8,986.5 L786.5,986.5 L788.1,958.4 L791.3,958.4 L792.9,986.5 L796.2,986.5 L797.8,958.4 L802.5,958.4 L804.1,986.5 L806.2,986.5 L807.8,958.4 L810.4,958.4 L812.0,986.5 L816.8,986.5 L818.4,958.4 L820.3,958.4 L821.9,986.5 L824.8,986.5 L826.4,958.4 L831.4,958.4 L833.0,986.5 L835.1,986.5 L836.7,958.4 L838.7,958.4 L840.3,986.5 L845.5,986.5 L847.1,958.4 L849.5,958.4 L851.1,986.5 L854.2,986.5 L855.8,958.4 L860.5,958.4 L862.1,986.5 L864.2,986.5 L865.8,958.4 L868.4,958.4 L869.9,986.5 L874.8,986.5 L876.4,958.4 L878.3,958.4 L879.9,986.5 L882.8,986.5 L884.4,958.4 L889.4,958.4 L891.0,986.5 L893.1,986.5 L894.7,958.4 L896.7,958.4 L898.3,986.5 L903.5,986.5 L905.1,958.4 L907.5,958.4 L909.1,986.5 L912.2,986.5 L913.8,958.4 L918.5,958.4 L920.0,986.5 L922.2,986.5 L923.8,958.4 L926.3,958.4 L927.9,986.5 L932.8,986.5 L934.4,958.4 L936.2,958.4 L937.8,986.5 L940.7,986.5 L942.3,958.4 L947.3,958.4 L948.9,986.5 L951.1,986.5 L952.7,958.4 L954.7,958.4 L956.3,986.5 L961.4,986.5 L963.0,958.4 L965.5,958.4 L967.1,986.5 L970.1,986.5 L971.7,958.4 L976.4,958.4 L978.0,986.5 L980.2,986.5 L981.8,958.4 L984.3,958.4 L985.9,986.5 L990.8,986.5 L992.4,958.4 L994.2,958.4 L995.8,986.5 L998.7,986.5 L1000.3,958.4 L1005.3,958.4 L1006.9,986.5 L1009.8,986.5 L1011.4,986.5 L1011.4,986.5 L1013.0,958.4 L1015.0,958.4 L1016.6,986.5 L1020.4,986.5 L1022.0,986.5 L1026.7,986.5 L1028.3,958.4 L1030.8,958.4 L1032.3,986.5 L1035.4,986.5 L1037.0,958.4 L1041.7,958.4 L1043.3,986.5 L1044.7,986.5 L1046.3,986.5 L1060.6,986.5 L1062.2,986.5 L1063.2,986.5 L1064.8,958.4 L1065.4,958.4 L1067.0,986.5 L1068.0,986.5 L1069.6,986.5 L1083.9,986.5 L1085.5,958.4 L1088.0,958.4 L1089.6,986.5 L1094.5,986.5 L1096.1,958.4 L1097.9,958.4 L1099.5,986.5 L1101.8,986.5 L1103.4,958.4 L1125.1,958.4 L1126.7,986.5 L1131.7,986.5 L1133.3,958.4 L1135.5,958.4 L1137.0,986.5 L1139.0,986.5 L1140.6,958.4 L1145.8,958.4 L1147.4,986.5 L1149.8,986.5 L1151.4,958.4 L1154.5,958.4 L1156.1,986.5 L1160.8,986.5 L1162.4,958.4 L1164.5,958.4 L1166.1,986.5 L1168.7,986.5 L1170.3,958.4 L1173.8,958.4 L1175.4,958.4 L1209.8,958.4 L1211.4,954.5 L1212.6,954.5 L1214.2,958.4 L1250.0,958.4 L1251.6,986.5 L1253.5,986.5 L1255.0,958.4 L1258.0,958.4 L1259.5,986.5 L1266.9,986.5 L1268.5,986.5 L1298.1,986.5 L1299.7,958.4 L1302.4,958.4 L1304.0,986.5 L1310.3,986.5 L1311.9,958.4 L1318.3,958.4 L1319.9,986.5 L1320.9,986.5 L1322.5,990.6 L1337.8,990.6 L1339.4,986.5 L1356.9,986.5 L1358.5,958.4 L1360.7,958.4 L1362.2,986.5 L1364.2,986.5 L1365.8,958.4 L1371.0,958.4 L1372.6,986.5 L1375.0,986.5 L1376.6,958.4 L1379.7,958.4 L1381.3,986.5 L1386.0,986.5 L1387.6,958.4 L1389.8,958.4 L1391.3,986.5 L1393.9,986.5 L1395.5,958.4 L1400.3,958.4 L1401.9,986.5 L1403.8,986.5 L1405.4,958.4 L1408.3,958.4 L1409.9,986.5 L1414.9,986.5 L1416.5,958.4 L1418.6,958.4 L1420.2,986.5 L1422.2,986.5 L1423.8,958.4 L1429.0,958.4 L1430.6,986.5 L1432.2,986.5 L1433.8,986.5 L1435.2,986.5 L1436.8,986.5 L1451.7,986.5 L1453.3,958.4 L1456.4,958.4 L1458.0,986.5 L1462.7,986.5 L1464.2,958.4 L1466.4,958.4 L1468.0,986.5 L1470.5,986.5 L1472.1,958.4 L1477.0,958.4 L1478.6,986.5 L1480.4,986.5 L1482.0,958.4 L1484.9,958.4 L1486.5,986.5 L1491.5,986.5 L1493.1,958.4 L1495.3,958.4 L1496.9,986.5 L1498.9,986.5 L1500.5,958.4 L1505.6,958.4 L1507.2,986.5 L1509.7,986.5 L1511.3,958.4 L1514.3,958.4 L1515.9,986.5 L1520.6,986.5 L1522.2,958.4 L1524.4,958.4 L1526.0,986.5 L1528.5,986.5 L1530.1,958.4 L1535.0,958.4 L1536.5,986.5 L1538.4,986.5 L1540.0,958.4 L1542.9,958.4 L1544.5,986.5 L1549.5,986.5 L1551.1,958.4 L1553.2,958.4 L1554.8,986.5 L1556.8,986.5 L1558.4,958.4 L1563.6,958.4 L1565.2,986.5 L1567.6,986.5 L1569.2,958.4 L1572.3,958.4 L1573.9,986.5 L1578.6,986.5 L1580.2,958.4 L1582.3,958.4 L1583.9,986.5 L1586.5,986.5 L1588.1,958.4 L1592.9,958.4 L1594.5,986.5 L1596.4,986.5 L1598.0,958.4 L1600.9,958.4 L1602.5,986.5 L1607.5,986.5 L1609.1,958.4 L1611.2,958.4 L1612.8,986.5 L1614.8,986.5 L1616.4,958.4 L1621.6,958.4 L1623.2,986.5 L1625.6,986.5 L1627.2,958.4 L1630.3,958.4 L1631.9,986.5 L1636.6,986.5 L1638.2,958.4 L1640.3,958.4 L1641.9,986.5 L1644.4,986.5 L1646.0,958.4 L1650.9,958.4 L1652.5,986.5 L1654.3,986.5 L1655.9,958.4 L1658.8,958.4 L1660.4,986.5 L1665.4,986.5 L1667.0,958.4 L1669.2,958.4 L1670.8,986.5 L1672.8,986.5 L1674.4,958.4 L1679.5,958.4 L1681.1,986.5 L1683.6,986.5 L1685.2,958.4 L1688.2,958.4 L1689.8,986.5 L1694.5,986.5 L1696.1,958.4 L1698.3,958.4 L1699.9,986.5 L1702.4,986.5 L1704.0,958.4 L1711.2,958.4 L1712.8,986.5 L1715.8,986.5 L1717.4,931.6 L1718.6,931.6 L1720.2,986.5 L1722.2,986.5 L1723.8,986.5 L1730.2,986.5 L1731.8,986.5 L1732.2,986.5 L1733.8,958.4 L1735.7,958.4 L1737.2,986.5 L1740.2,986.5 L1741.8,958.4 L1746.8,958.4 L1748.3,986.5 L1750.5,986.5 L1752.1,958.4 L1754.1,958.4 L1755.7,986.5 L1760.8,986.5 L1762.4,958.4 L1764.9,958.4 L1766.5,986.5 L1769.5,986.5 L1771.1,958.4 L1775.8,958.4 L1777.4,986.5 L1779.6,986.5 L1781.2,958.4 L1783.7,958.4 L1785.3,986.5 L1790.2,986.5 L1791.8,958.4 L1793.6,958.4 L1795.2,986.5 L1798.1,986.5 L1799.7,958.4 L1802.2,958.4 L1803.8,958.4 L1818.2,958.4 L1819.8,986.5 L1822.0,986.5 L1823.5,958.4 L1825.5,958.4 L1827.1,986.5 L1832.3,986.5 L1833.9,958.4 L1836.3,958.4 L1837.9,986.5 L1841.0,986.5 L1842.6,958.4 L1844.2,958.4" stroke="#FF00FF"/>
</g>
<g id="labels">
<text transform="translate(257.60,1224.20) scale(1,1.04)" text-anchor="end" font-size="71.0" >0.00</text>
<text transform="translate(257.60,1110.70) scale(1,1.04)" text-anchor="end" font-size="71.0" >0.05</text>
<text transform="translate(257.60,997.20) scale(1,1.04)" text-anchor="end" font-size="71.0" >0.10</text>
<text transform="translate(257.60,883.70) scale(1,1.04)" text-anchor="end" font-size="71.0" >0.15</text>
<text transform="translate(257.60,770.20) scale(1,1.04)" text-anchor="end" font-size="71.0" >0.20</text>
<text transform="translate(257.60,656.70) scale(1,1.04)" text-anchor="end" font-size="71.0" >0.25</text>
<text transform="translate(257.60,543.20) scale(1,1.04)" text-anchor="end" font-size="71.0" >0.30</text>
<text transform="translate(257.60,429.70) scale(1,1.04)" text-anchor="end" font-size="71.0" >0.35</text>
<text transform="translate(257.60,316.20) scale(1,1.04)" text-anchor="end" font-size="71.0" >0.40</text>
<text transform="translate(257.60,202.70) scale(1,1.04)" text-anchor="end" font-size="71.0" >0.45</text>
<text transform="translate(257.60,89.20) scale(1,1.04)" text-anchor="end" font-size="71.0" >0.50</text>
<text transform="translate(282.70,1284.10) scale(1,1.04)" text-anchor="middle" font-size="71.0" >0</text>
<text transform="translate(438.40,1284.10) scale(1,1.04)" text-anchor="middle" font-size="71.0" >1</text>
<text transform="translate(594.10,1284.10) scale(1,1.04)" text-anchor="middle" font-size="71.0" >2</text>
<text transform="translate(749.80,1284.10) scale(1,1.04)" text-anchor="middle" font-size="71.0" >3</text>
<text transform="translate(905.50,1284.10) scale(1,1.04)" text-anchor="middle" font-size="71.0" >4</text>
<text transform="translate(1061.20,1284.10) scale(1,1.04)" text-anchor="middle" font-size="71.0" >5</text>
<text transform="translate(1216.90,1284.10) scale(1,1.04)" text-anchor="middle" font-size="71.0" >6</text>
<text transform="translate(1372.60,1284.10) scale(1,1.04)" text-anchor="middle" font-size="71.0" >7</text>
<text transform="translate(1528.30,1284.10) scale(1,1.04)" text-anchor="middle" font-size="71.0" >8</text>
<text transform="translate(1684.00,1284.10) scale(1,1.04)" text-anchor="middle" font-size="71.0" >9</text>
<text transform="translate(1839.70,1284.10) scale(1,1.04)" text-anchor="middle" font-size="71.0" >10</text>
<text transform="translate(906.80,1383.00) scale(1,1.043)" text-anchor="start" font-size="70.2" >Time(min)</text>
<text transform="translate(78,921.9) rotate(-90) scale(1,1.017)" font-size="72">Friction coefficient</text>
</g>
<g id="legend">
<text transform="translate(371.31,190.30) scale(1,1.04)" text-anchor="start" font-size="71.0" >a</text>
<line x1="423.4" y1="171.5" x2="549.6" y2="171.5" stroke="#FF0000" stroke-width="6.8" stroke-linecap="round"/>
<text transform="translate(563.26,190.30) scale(1,1.04)" text-anchor="start" font-size="70.5" >Cu-Sn</text>
<text transform="translate(373.20,280.20) scale(1,1.04)" text-anchor="start" font-size="71.0" >b</text>
<line x1="427.4" y1="260.3" x2="552.6" y2="260.3" stroke="#008000" stroke-width="6.8" stroke-linecap="round"/>
<text transform="translate(566.16,280.20) scale(1,1.04)" text-anchor="start" font-size="70.5" >Cu-Sn-PTFE</text>
<text transform="translate(371.37,368.80) scale(1,1.04)" text-anchor="start" font-size="71.0" >c</text>
<line x1="419.4" y1="349.3" x2="545.6" y2="349.3" stroke="#0000FF" stroke-width="6.8" stroke-linecap="round"/>
<text transform="translate(559.56,368.80) scale(1,1.04)" text-anchor="start" font-size="70.5" >Cu-Sn-TiO</text>
<text transform="translate(894.00,395.90) scale(1,1.0)" text-anchor="start" font-size="44" >2</text>
<text transform="translate(370.72,481.40) scale(1,1.04)" text-anchor="start" font-size="71.0" >d</text>
<line x1="427.4" y1="461.4" x2="552.6" y2="461.4" stroke="#FF00FF" stroke-width="6.8" stroke-linecap="round"/>
<text transform="translate(569.16,481.40) scale(1,1.04)" text-anchor="start" font-size="70.5" >Cu-Sn-PTFE-TiO</text>
<text transform="translate(1107.00,509.10) scale(1,1.0)" text-anchor="start" font-size="44" >2</text>
</g>
<g id="annotations">
<text transform="translate(878.71,555.20) scale(1,1.04)" text-anchor="start" font-size="71.0" >a</text>
<line x1="919.5" y1="563.5" x2="1021.4" y2="623.3" stroke="#000" stroke-width="3.7" stroke-linecap="round"/><polygon points="1045.5,637.5 1015.8,628.9 1023.5,615.8" fill="#000" stroke="#000" stroke-width="1.6" stroke-linejoin="round"/>
<text transform="translate(1394.10,608.20) scale(1,1.04)" text-anchor="start" font-size="71.0" >b</text>
<line x1="1374.0" y1="595.5" x2="1292.0" y2="656.3" stroke="#000" stroke-width="3.7" stroke-linecap="round"/><polygon points="1269.5,673.0 1289.1,649.0 1298.1,661.2" fill="#000" stroke="#000" stroke-width="1.6" stroke-linejoin="round"/>
<text transform="translate(1502.57,787.40) scale(1,1.04)" text-anchor="start" font-size="71.0" >c</text>
<line x1="1487.5" y1="768.5" x2="1412.4" y2="843.3" stroke="#000" stroke-width="3.7" stroke-linecap="round"/><polygon points="1392.5,863.0 1408.4,836.5 1419.1,847.2" fill="#000" stroke="#000" stroke-width="1.6" stroke-linejoin="round"/>
<text transform="translate(1167.82,1109.30) scale(1,1.04)" text-anchor="start" font-size="71.0" >d</text>
<line x1="1212.0" y1="1069.5" x2="1261.9" y2="1021.0" stroke="#000" stroke-width="3.7" stroke-linecap="round"/><polygon points="1282.0,1001.5 1265.8,1027.9 1255.2,1017.0" fill="#000" stroke="#000" stroke-width="1.6" stroke-linejoin="round"/>
</g>
</svg>
</body></html>
